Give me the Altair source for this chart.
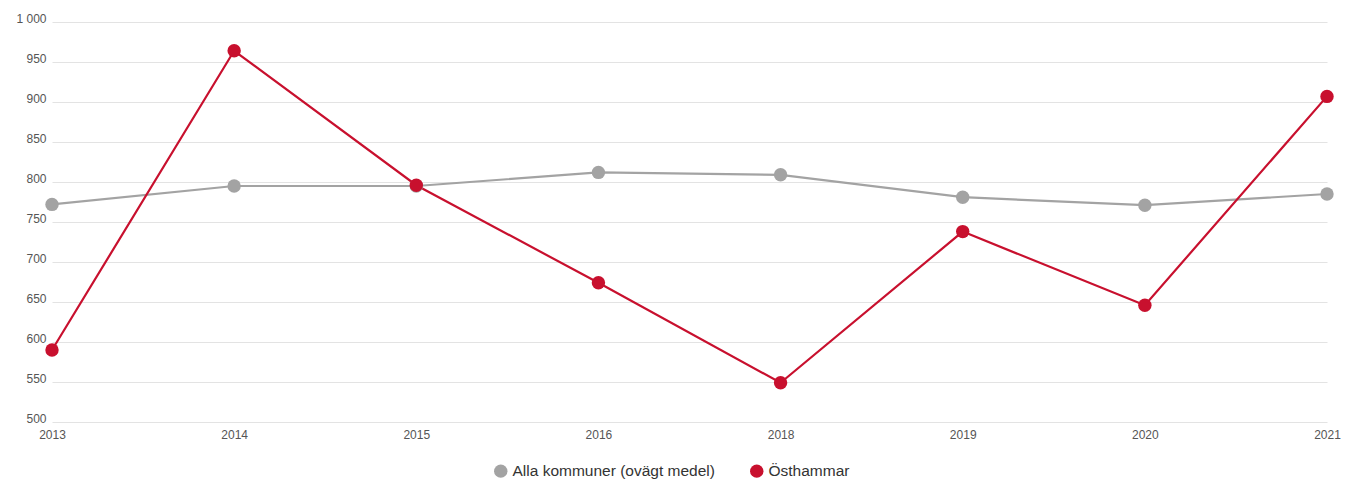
import altair as alt
import pandas as pd

years = ["2013", "2014", "2015", "2016", "2018", "2019", "2020", "2021"]
alla = [772, 795, 795, 812, 809, 781, 771, 785]
osthammar = [590, 964, 796, 674, 549, 738, 646, 907]
series_names = ["Alla kommuner (ovägt medel)", "Östhammar"]
series_colors = ["#a3a3a3", "#c8102e"]

rows = []
for name, vals in zip(series_names, [alla, osthammar]):
    for y, v in zip(years, vals):
        rows.append({"År": y, "Värde": v, "Serie": name})
df = pd.DataFrame(rows)

x = alt.X("År:O", sort=years, scale=alt.Scale(padding=0),
          axis=alt.Axis(title=None, labelAngle=0, domain=False, ticks=False, grid=False,
                        labelPadding=7, labelFontSize=12, labelColor="#555555",
                        labelFont="Liberation Sans"))
y = alt.Y("Värde:Q", scale=alt.Scale(domain=[500, 1000], nice=False, zero=False),
          axis=alt.Axis(title=None, values=list(range(500, 1001, 50)), domain=False, ticks=False,
                        labelBaseline="alphabetic", labelPadding=6, labelFontSize=12,
                        labelColor="#555555", labelFont="Liberation Sans",
                        gridColor="#e3e3e3", labelExpr="replace(format(datum.value, ',d'), ',', ' ')"))
color = alt.Color("Serie:N", scale=alt.Scale(domain=series_names, range=series_colors),
                  legend=alt.Legend(title=None, orient="none", direction="horizontal",
                                    legendX=441, legendY=441, symbolType="circle", symbolSize=180,
                                    symbolStrokeWidth=0, labelFontSize=15.5, labelColor="#333333",
                                    labelFont="Liberation Sans", labelLimit=0, columnPadding=34,
                                    symbolOffset=0))

layers = []
for name in series_names:
    base = alt.Chart(df).transform_filter(alt.datum.Serie == name)
    layers.append(base.mark_line(strokeWidth=2.2).encode(x=x, y=y, color=color))
for name in series_names:
    base = alt.Chart(df).transform_filter(alt.datum.Serie == name)
    layers.append(base.mark_point(filled=True, size=180, opacity=1).encode(x=x, y=y, color=color))

chart = alt.layer(*layers).properties(
    width=1275, height=400,
    background="white",
    autosize=alt.AutoSizeParams(type="none"),
    padding={"left": 44, "top": 14, "right": 14, "bottom": 60},
).configure_view(stroke=None)

chart.save("out.html", embed_options={"renderer": "svg", "actions": False})
